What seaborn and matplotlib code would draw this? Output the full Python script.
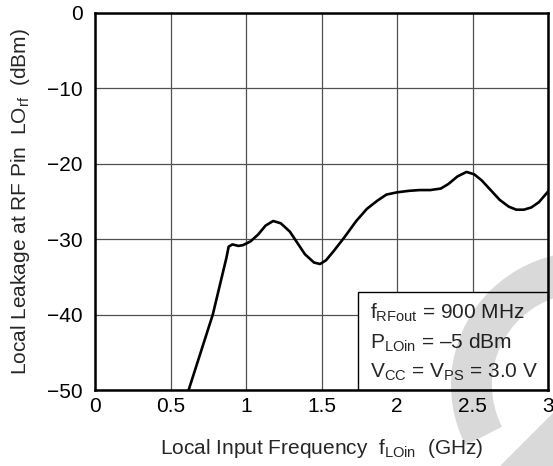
import matplotlib
matplotlib.use("Agg")
import matplotlib.pyplot as plt
import matplotlib.patches as mpatches
import pandas as pd
import seaborn as sns

# Curva (frequência em GHz, fuga em dBm)
freq = [0.62, 0.70, 0.78, 0.84, 0.87, 0.885, 0.91, 0.95, 0.98, 1.03, 1.08, 1.13,
        1.18, 1.23, 1.29, 1.34, 1.39, 1.45, 1.49, 1.53, 1.58, 1.65, 1.73, 1.80,
        1.87, 1.93, 2.00, 2.08, 2.15, 2.22, 2.29, 2.34, 2.40, 2.46, 2.51, 2.56,
        2.62, 2.68, 2.74, 2.79, 2.84, 2.89, 2.94, 3.00]
leakage = [-50.0, -45.0, -40.0, -35.0, -32.5, -31.0, -30.7, -30.9, -30.8, -30.3, -29.4, -28.2,
           -27.6, -27.9, -29.0, -30.5, -32.0, -33.1, -33.3, -32.8, -31.6, -29.8, -27.6, -26.0,
           -24.9, -24.1, -23.8, -23.6, -23.5, -23.5, -23.3, -22.7, -21.7, -21.1, -21.4, -22.2,
           -23.5, -24.8, -25.7, -26.1, -26.1, -25.8, -25.1, -23.7]

x_ticks = [0, 0.5, 1, 1.5, 2, 2.5, 3]
x_tick_labels = ["0", "0.5", "1", "1.5", "2", "2.5", "3"]
y_ticks = [0, -10, -20, -30, -40, -50]
y_tick_labels = ["0", "\u221210", "\u221220", "\u221230", "\u221240", "\u221250"]

conditions = [r"f$_{\mathregular{RFout}}$ = 900 MHz",
              r"P$_{\mathregular{LOin}}$ = " + "\u2013" + "5 dBm",
              r"V$_{\mathregular{CC}}$ = V$_{\mathregular{PS}}$ = 3.0 V"]

sns.set_style("white")
plt.rcParams["font.family"] = ["Liberation Sans", "DejaVu Sans"]
plt.rcParams["mathtext.fontset"] = "custom"
plt.rcParams["mathtext.rm"] = "Liberation Sans"
plt.rcParams["mathtext.it"] = "Liberation Sans"
plt.rcParams["mathtext.default"] = "regular"

df = pd.DataFrame({"freq": freq, "leakage": leakage})

fig = plt.figure(figsize=(5.53, 4.66), dpi=100)
ax = fig.add_axes([0.1718, 0.163, 0.8192, 0.8097])

sns.lineplot(data=df, x="freq", y="leakage", color="black", linewidth=1.9, ax=ax, zorder=5)

fs = 15
ax.set_xlim(0, 3)
ax.set_ylim(-50, 0)
ax.set_xticks(x_ticks)
ax.set_xticklabels(x_tick_labels)
ax.set_yticks(y_ticks)
ax.set_yticklabels(y_tick_labels)
ax.tick_params(axis="both", length=0, labelsize=fs, colors="black")
ax.tick_params(axis="x", pad=5)
ax.tick_params(axis="y", pad=9)
ax.grid(True, color="#505050", linewidth=0.9)
ax.set_axisbelow(True)
for side in ["left", "bottom", "right", "top"]:
    ax.spines[side].set_color("black")
    ax.spines[side].set_linewidth(1.8)
    ax.spines[side].set_zorder(6)

ax.set_xlabel(r"Local Input Frequency  f$_{\mathregular{LOin}}$  (GHz)", fontsize=fs)
ax.set_ylabel(r"Local Leakage at RF Pin  LO$_{\mathregular{rf}}$  (dBm)", fontsize=fs)
ax.xaxis.set_label_coords(0.5, -0.124)
ax.yaxis.set_label_coords(-0.14, 0.5)

# caixa com as condições de medida
box = mpatches.Rectangle((1.742, -50), 3 - 1.742, 13.05, facecolor="white",
                         edgecolor="black", linewidth=1.0, zorder=4)
ax.add_patch(box)
for i, txt in enumerate(conditions):
    ax.text(1.82, -39.8 - 3.95 * i, txt, fontsize=fs, va="center", ha="left", zorder=7)

# marca d'água clara no canto inferior direito
wm = mpatches.Wedge((5.84, 0.81), 1.33, 60, 207, width=0.41, facecolor="black",
                    alpha=0.15, edgecolor="none", transform=fig.dpi_scale_trans, zorder=10)
fig.patches.append(wm)
wm2 = mpatches.Polygon([(5.00, 0.0), (5.53, 0.53), (5.53, 0.0)], closed=True,
                       facecolor="black", alpha=0.15, edgecolor="none",
                       transform=fig.dpi_scale_trans, zorder=10)
fig.patches.append(wm2)

fig.savefig("out.png", dpi=100)
